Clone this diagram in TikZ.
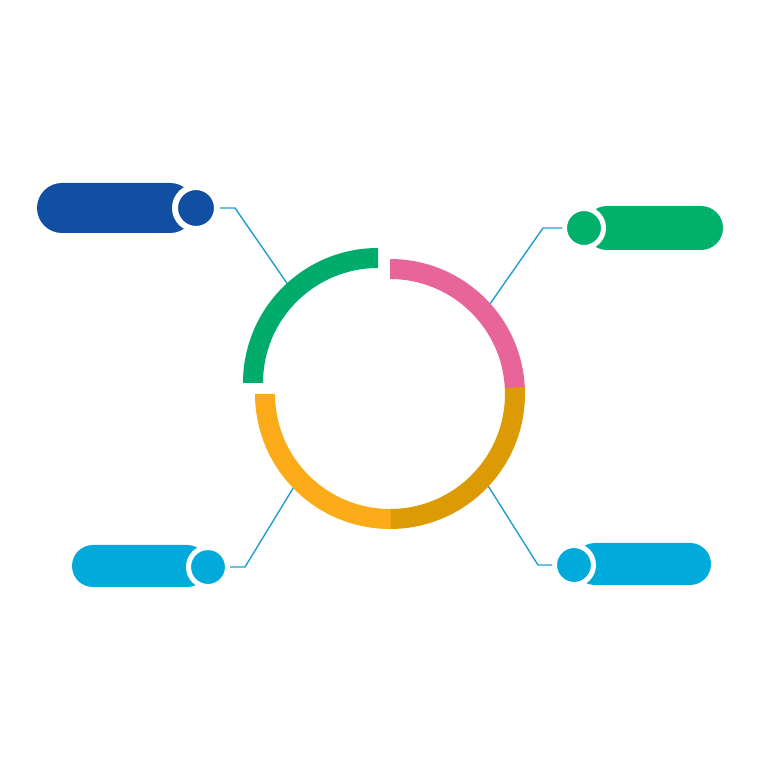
\documentclass[tikz,border=0pt]{standalone}
\usetikzlibrary{shapes.misc,calc}
\definecolor{ringgreen}{HTML}{00AC6B}
\definecolor{ringpink}{HTML}{E8659A}
\definecolor{ringgold}{HTML}{DC9A04}
\definecolor{ringorange}{HTML}{FBAB18}
\definecolor{calldark}{HTML}{114FA2}
\definecolor{callgreen}{HTML}{00B06B}
\definecolor{calllight}{HTML}{00AADB}
\definecolor{linkblue}{HTML}{1E9FD0}
\begin{document}
\begin{tikzpicture}[x=1pt,y=1pt,
  pill/.style={rounded rectangle, inner sep=0pt, draw=none},
  dotbig/.style={circle, inner sep=0pt, draw=white, line width=6pt, minimum size=42pt},
  dotsmall/.style={circle, inner sep=0pt, draw=white, line width=5pt, minimum size=39pt},
  link/.style={draw=linkblue, line width=1.4pt, line join=miter},
  seg/.style={fill=#1, draw=none}]
\useasboundingbox (0,0) rectangle (777,777);
\fill[white] (0,0) rectangle (777,777);

% ring centres
\coordinate (C) at (390,383);
\coordinate (G) at (378,394);

% pills
\node[pill, fill=calldark, minimum width=158pt, minimum height=50pt] (p1) at (116,569) {};
\node[pill, fill=callgreen, minimum width=138pt, minimum height=44pt] (p2) at (654,549) {};
\node[pill, fill=calllight, minimum width=136pt, minimum height=42pt] (p3) at (140,211) {};
\node[pill, fill=calllight, minimum width=137pt, minimum height=42pt] (p4) at (642.5,213) {};

% dots
\node[dotbig, fill=calldark] (c1) at (196,569) {};
\node[dotsmall, fill=callgreen] (c2) at (584,549) {};
\node[dotsmall, fill=calllight] (c3) at (208,210) {};
\node[dotsmall, fill=calllight] (c4) at (574,212) {};

% connector points
\coordinate (k1) at ($(c1.east)+(15,0)$);
\coordinate (k2) at ($(c2.west)+(-19,0)$);
\coordinate (k3) at ($(c3.east)+(15,0)$);
\coordinate (k4) at ($(c4.west)+(-14,0)$);
\coordinate (a1) at ($(G)+(133:125)$);
\coordinate (a2) at ($(C)+(41:125)$);
\coordinate (a3) at ($(C)+(223:125)$);
\coordinate (a4) at ($(C)+(318:125)$);

\draw[link] (c1.east) -- (k1) -- (a1);
\draw[link] (c2.west) -- (k2) -- (a2);
\draw[link] (c3.east) -- (k3) -- (a3);
\draw[link] (c4.west) -- (k4) -- (a4);

% ring segments
\fill[seg=ringpink] ($(C)+(2.7:135)$) arc[start angle=2.7,end angle=90,radius=135]
  -- ($(C)+(90:115)$) arc[start angle=90,end angle=2.7,radius=115] -- cycle;
\fill[seg=ringgold] ($(C)+(-90:135)$) arc[start angle=-90,end angle=3,radius=135]
  -- ($(C)+(3:115)$) arc[start angle=3,end angle=-90,radius=115] -- cycle;
\fill[seg=ringorange] ($(C)+(180:135)$) arc[start angle=180,end angle=270.3,radius=135]
  -- ($(C)+(270.3:115)$) arc[start angle=270.3,end angle=180,radius=115] -- cycle;
\fill[seg=ringgreen] ($(G)+(90:135)$) arc[start angle=90,end angle=180,radius=135]
  -- ($(G)+(180:115)$) arc[start angle=180,end angle=90,radius=115] -- cycle;
\end{tikzpicture}
\end{document}
